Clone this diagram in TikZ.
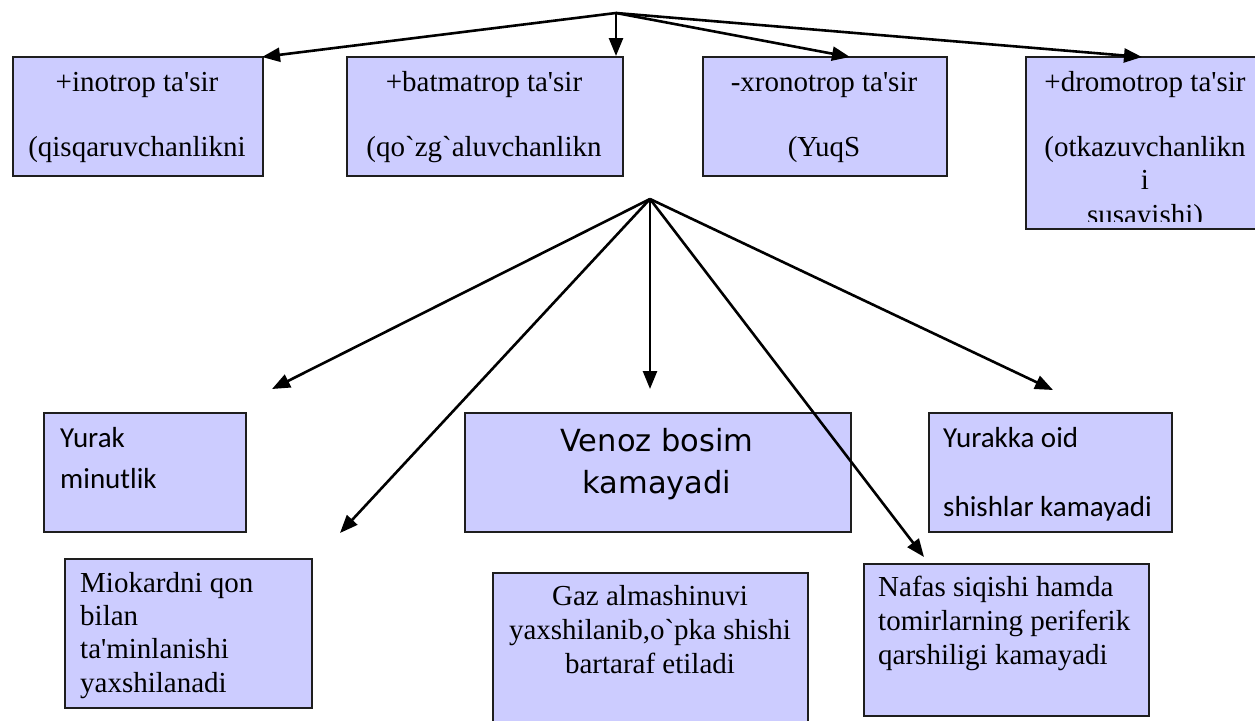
\documentclass[tikz,border=0pt]{standalone}
\usepackage{fontspec}
\newfontfamily\tnr{Liberation Serif}
\newfontfamily\carl{Carlito}
\newfontfamily\dvs{DejaVu Sans}
\usetikzlibrary{arrows.meta}
\definecolor{boxfill}{HTML}{CCCCFF}
\definecolor{boxline}{HTML}{1E1E1E}
\begin{document}
\begin{tikzpicture}[x=1pt,y=-1pt,
  box/.style={draw=boxline, line width=2pt, fill=boxfill, anchor=north west, inner sep=0pt},
  arr/.style={line width=2.6pt, -{Triangle[length=18pt,width=14pt]}},
  serif/.style={font=\tnr\fontsize{29}{33}\selectfont, inner sep=0pt},
  sansc/.style={font=\carl\fontsize{29}{33}\selectfont, inner sep=0pt, anchor=base west},
  sansv/.style={font=\dvs\fontsize{30.5}{34}\selectfont, inner sep=0pt, anchor=base},
  ctr/.style={serif, anchor=base},
  lft/.style={serif, anchor=base west}]
\clip (0,0) rectangle (1255,720);
\fill[white] (0,0) rectangle (1255,720);

% top boxes
\node[box, minimum width=250pt, minimum height=119pt] (b1) at (12,56) {};
\node[box, minimum width=276pt, minimum height=119pt] (b2) at (346,56) {};
\node[box, minimum width=244pt, minimum height=119pt] (b3) at (702,56) {};
\node[box, minimum width=240pt, minimum height=172pt] (b4) at (1025,56) {};

\node[ctr] (b1a) at (137,91) {+inotrop ta'sir};
\node[ctr] (b1b) at (137,156) {(qisqaruvchanlikni};
\node[ctr] (b2a) at (484,91) {+batmatrop ta'sir};
\node[ctr] (b2b) at (484,156) {(qo`zg`aluvchanlikn};
\node[ctr] (b3a) at (824,91) {-xronotrop ta'sir};
\node[ctr] (b3b) at (824,156) {(YuqS};
\node[ctr] (b4a) at (1145,91) {+dromotrop ta'sir};
\node[ctr] (b4b) at (1145,156) {(otkazuvchanlikn};
\node[ctr] (b4c) at (1145,189) {i};
\begin{scope}
  \clip (1025,200) rectangle (1255,221);
  \node[ctr] (b4d) at (1145,224) {susayishi)};
\end{scope}

% middle row
\node[box, minimum width=202pt, minimum height=119pt] (c1) at (43,412) {};
\node[box, minimum width=386pt, minimum height=119pt] (c2) at (464,412) {};
\node[box, minimum width=243pt, minimum height=119pt] (c3) at (928,412) {};

\node[sansc] (c1a) at (60,447) {Yurak};
\node[sansc] (c1b) at (60,488) {minutlik};
\node[sansv] (c2a) at (657,451) {Venoz bosim};
\node[sansv] (c2b) at (657,493) {kamayadi};
\node[sansc] (c3a) at (943,447) {Yurakka oid};
\node[sansc] (c3b) at (943,516) {shishlar kamayadi};

% bottom row
\node[box, minimum width=247pt, minimum height=149pt] (d1) at (64,558) {};
\node[box, minimum width=315pt, minimum height=170pt] (d2) at (492,572) {};
\node[box, minimum width=285pt, minimum height=152pt] (d3) at (863,563) {};

\node[lft] (d1a) at (80,592) {Miokardni qon};
\node[lft] (d1b) at (80,625) {bilan};
\node[lft] (d1c) at (80,658) {ta'minlanishi};
\node[lft] (d1d) at (80,692) {yaxshilanadi};
\node[ctr] (d2a) at (650,605) {Gaz almashinuvi};
\node[ctr] (d2b) at (650,639) {yaxshilanib,o`pka shishi};
\node[ctr] (d2c) at (650,673) {bartaraf etiladi};
\node[lft] (d3a) at (878,596) {Nafas siqishi hamda};
\node[lft] (d3b) at (878,630) {tomirlarning periferik};
\node[lft] (d3c) at (878,664) {qarshiligi kamayadi};

% sources and tips
\coordinate (s1) at (616,13);
\coordinate (t1) at (262,57);
\coordinate (t2) at (616,56);
\coordinate (t3) at (850,57);
\coordinate (t4) at (1142,57);
\coordinate (s2) at (650,199);
\coordinate (u1) at (272,389);
\coordinate (u2) at (340,533);
\coordinate (u3) at (650,389);
\coordinate (u4) at (924,557);
\coordinate (u5) at (1053,390);

\draw[arr] (s1) -- (t1);
\draw[arr] (s1) -- (t2);
\draw[arr] (s1) -- (t3);
\draw[arr] (s1) -- (t4);
\draw[arr] (s2) -- (u1);
\draw[arr] (s2) -- (u2);
\draw[arr] (s2) -- (u3);
\draw[arr] (s2) -- (u4);
\draw[arr] (s2) -- (u5);
\end{tikzpicture}
\end{document}
